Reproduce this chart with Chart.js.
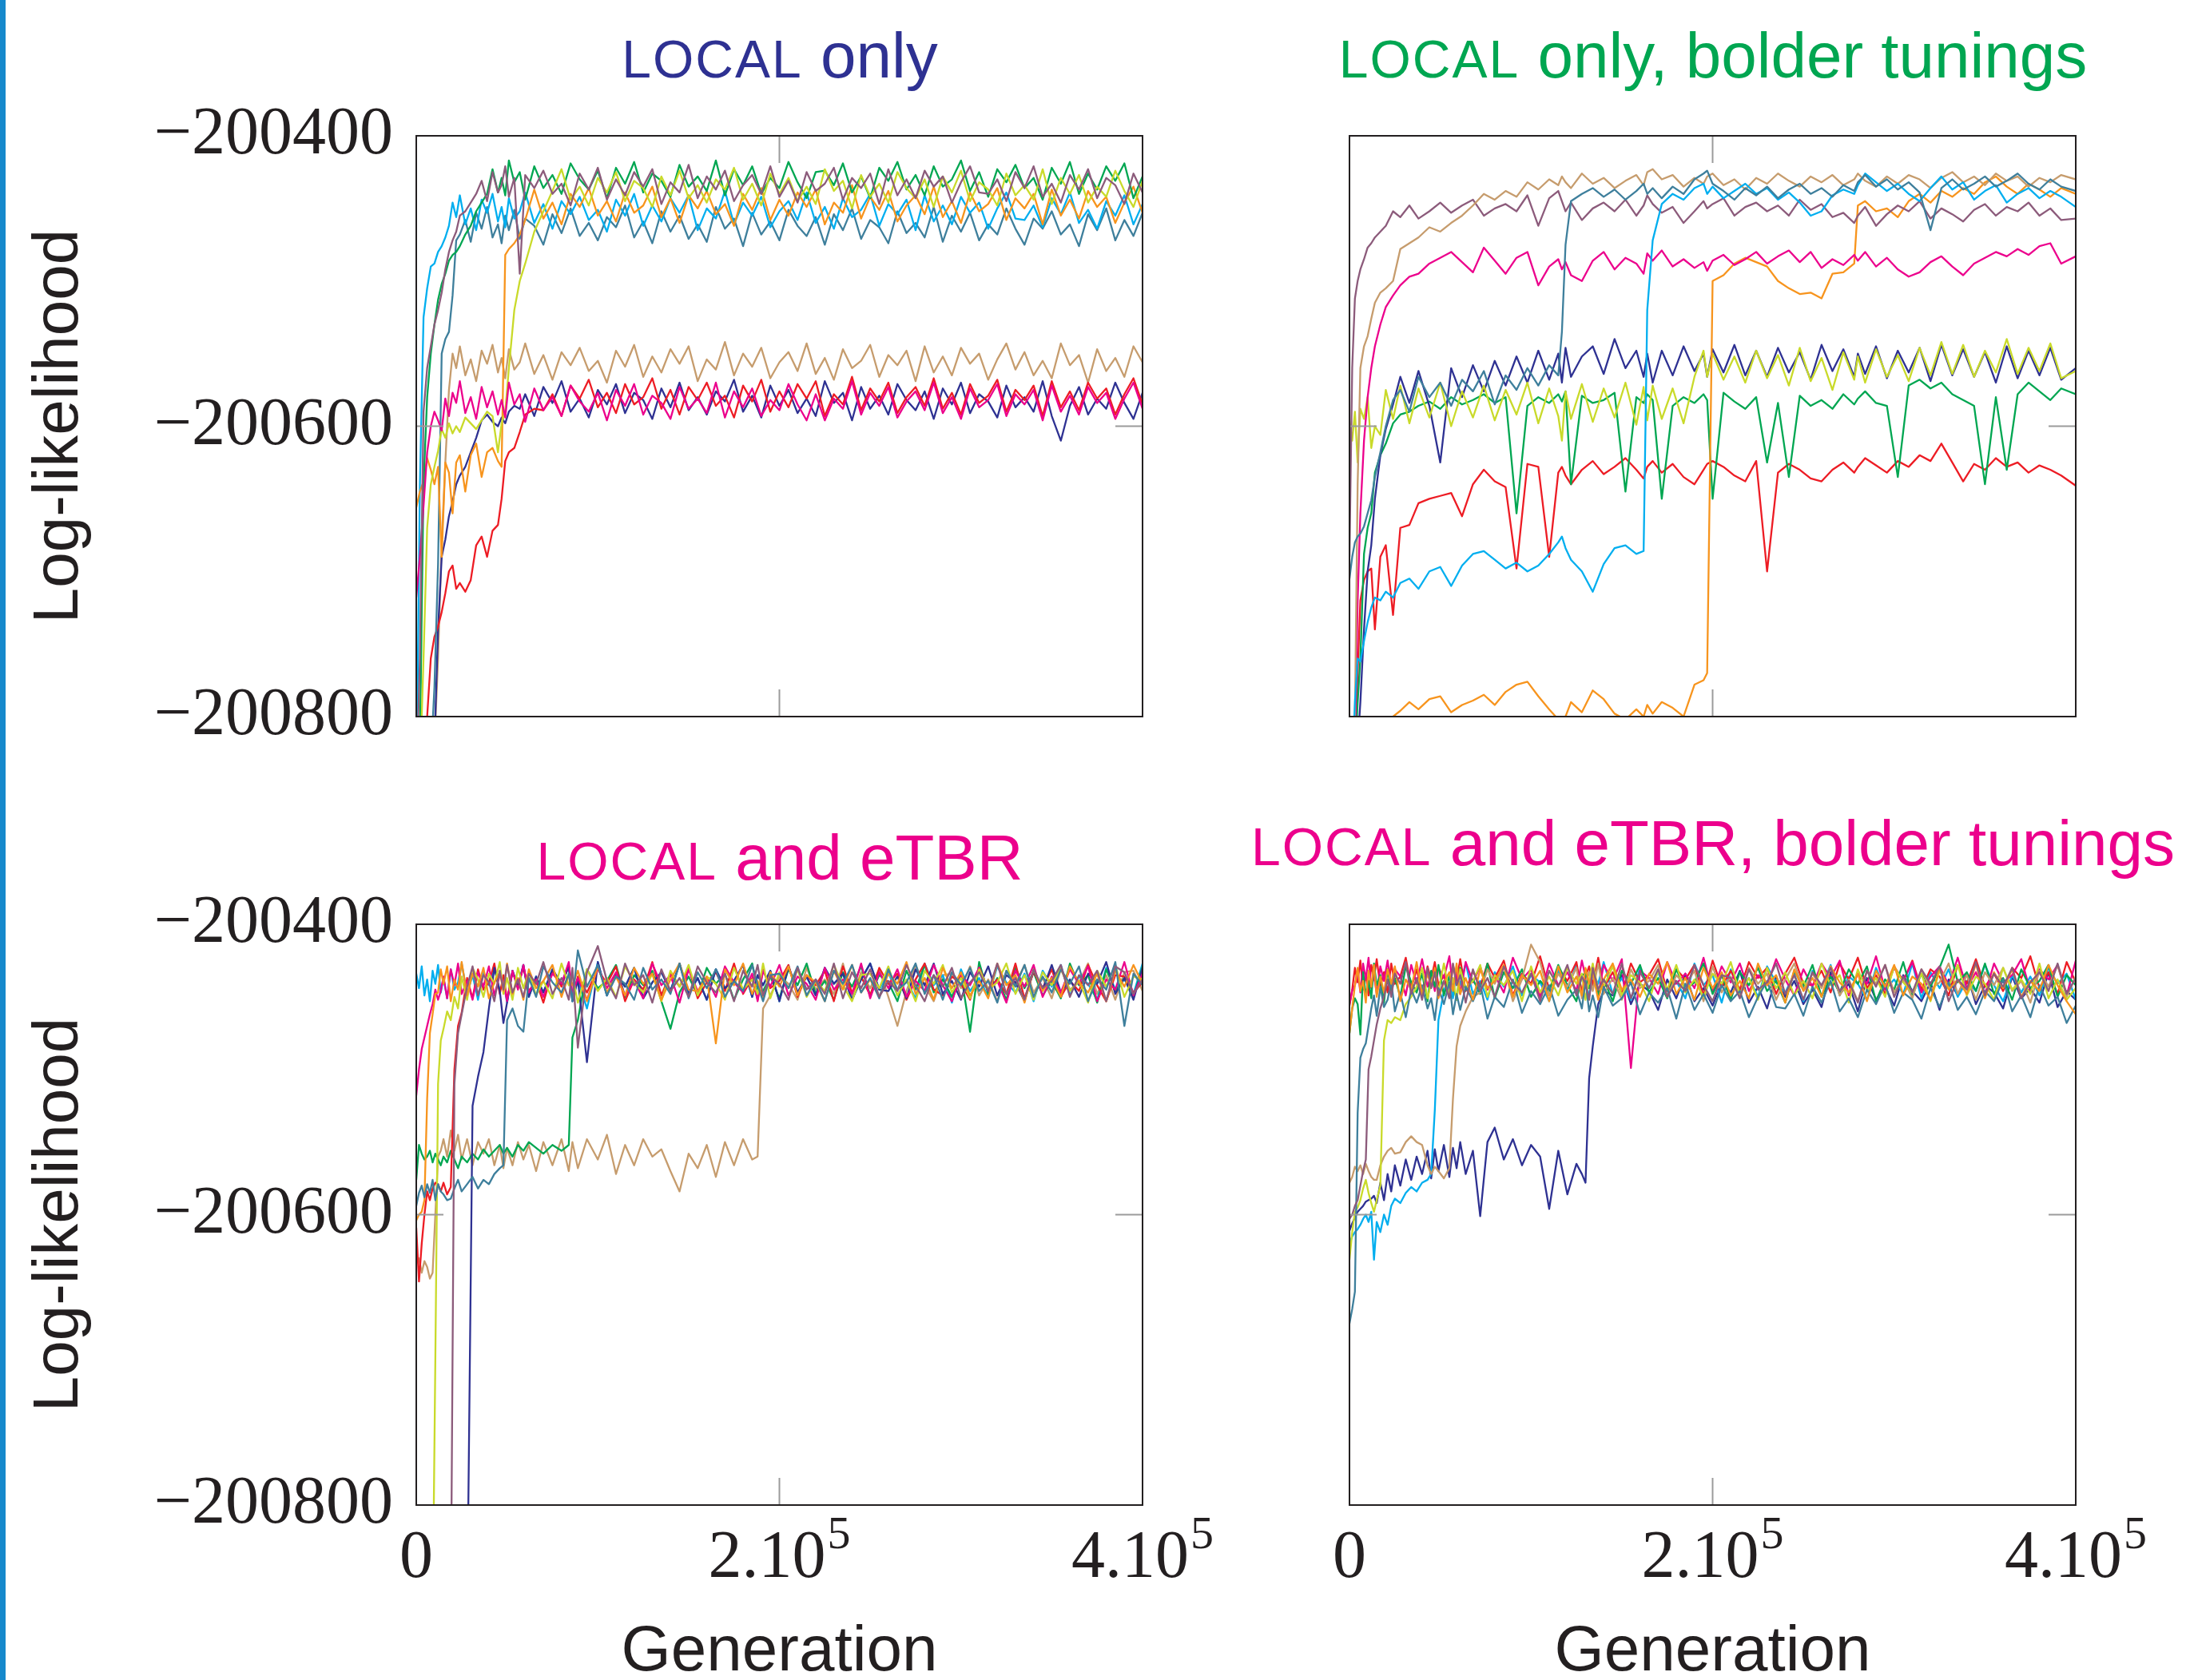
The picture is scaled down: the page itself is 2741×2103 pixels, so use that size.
<!DOCTYPE html>
<html>
<head>
<meta charset="utf-8">
<script src="https://cdn.jsdelivr.net/npm/chart.js@4.4.1/dist/chart.umd.min.js"></script>
<style>
  html, body { margin: 0; padding: 0; background: #fff; width: 2741px; height: 2103px; overflow: hidden; position: relative; }
  #edge { position: absolute; left: 0; top: 0; width: 7px; height: 2103px; background: #1689cc; }
  canvas { position: absolute; }
  .title { position: absolute; width: 1400px; text-align: center; white-space: nowrap;
           font-family: "Liberation Sans", Arial, sans-serif; font-size: 80px; line-height: 80px; }
  .title .sc { font-size: 66px; letter-spacing: 2px; }
</style>
</head>
<body>
<div id="edge"></div>

<div class="title" style="left:276px; top:30px; color:#2e3192"><span class="sc">LOCAL</span> only</div>
<div class="title" style="left:1444px; top:30px; color:#00a651"><span class="sc">LOCAL</span> only, bolder tunings</div>
<div class="title" style="left:276px; top:1034px; color:#ec008c"><span class="sc">LOCAL</span> and eTBR</div>
<div class="title" style="left:1444px; top:1016px; color:#ec008c"><span class="sc">LOCAL</span> and eTBR, bolder tunings</div>

<canvas id="c1" width="1480" height="1000" style="left:0; top:0"></canvas>
<canvas id="c2" width="1141" height="1000" style="left:1560px; top:0"></canvas>
<canvas id="c3" width="1560" height="1103" style="left:0; top:1000px"></canvas>
<canvas id="c4" width="1141" height="1103" style="left:1560px; top:1000px"></canvas>

<script>
// line colours
const NAVY = '#2e3192', GREEN = '#00a651', MAGENTA = '#ec008c', CYAN = '#00aeef', ORANGE = '#f7941d';
const RED = '#ed1c24', TAN = '#c69c6d', MAUVE = '#8c5b7b', STEEL = '#3e7f9c', LIME = '#c9da2a';
const INK = '#231f20';

// ---------- panel 1: LOCAL only ----------
const gen1 = [
  0, 2000, 4000, 6000, 8000, 10000, 12000, 14000, 16000, 18000,
  20000, 22000, 24000, 27000, 30000, 33000, 36000, 39000, 42000, 45000,
  47000, 49000, 51000, 54000, 57000, 60000, 65000, 70000, 75000, 80000,
  85000, 90000, 95000, 100000, 105000, 110000, 115000, 120000, 125000, 130000,
  135000, 140000, 145000, 150000, 155000, 160000, 165000, 170000, 175000, 180000,
  185000, 190000, 195000, 200000, 205000, 210000, 215000, 220000, 225000, 230000,
  235000, 240000, 245000, 250000, 255000, 260000, 265000, 270000, 275000, 280000,
  285000, 290000, 295000, 300000, 305000, 310000, 315000, 320000, 325000, 330000,
  335000, 340000, 345000, 350000, 355000, 360000, 365000, 370000, 375000, 380000,
  385000, 390000, 395000, 400000];
const p1Cyan = [
  -200860, -200640, -200525, -200505, -200490, -200488, -200480, -200476, -200470, -200462,
  -200446, -200456, -200441, -200461, -200450, -200465, -200444, -200453, -200440, -200459,
  -200449, -200463, -200443, -200457, -200452, -200439, -200460, -200447, -200464, -200445,
  -200454, -200442, -200458, -200451, -200466, -200444, -200455, -200440, -200462, -200448,
  -200459, -200443, -200453, -200441, -200465, -200450, -200457, -200438, -200461, -200446,
  -200455, -200442, -200463, -200452, -200445, -200458, -200439, -200460, -200449, -200464,
  -200443, -200456, -200451, -200440, -200462, -200447, -200454, -200444, -200465, -200441,
  -200459, -200448, -200461, -200442, -200453, -200446, -200464, -200450, -200439, -200457,
  -200458, -200448, -200463, -200443, -200454, -200439, -200460, -200451, -200464, -200445,
  -200455, -200441, -200461, -200447];
const p1Steel = [
  -200860, -200860, -200850, -200840, -200830, -200780, -200695, -200550, -200540, -200535,
  -200510, -200472,
  -200468, -200458, -200473, -200453, -200464, -200449, -200470, -200461, -200474, -200455,
  -200465, -200451, -200471, -200457, -200462, -200475, -200454, -200467, -200450, -200469,
  -200460, -200472, -200456, -200463, -200448, -200470, -200459, -200474, -200452, -200466,
  -200455, -200471, -200461, -200473, -200449, -200464, -200457, -200476, -200453, -200468,
  -200459, -200472, -200451, -200462, -200469, -200456, -200475, -200454, -200465, -200450,
  -200471, -200458, -200463, -200474, -200452, -200467, -200460, -200470, -200449, -200473,
  -200455, -200466, -200453, -200472, -200461, -200468, -200450, -200464, -200475, -200457,
  -200464, -200452, -200468, -200461, -200476, -200454, -200465, -200450, -200472, -200458,
  -200469, -200453];
const p1Mauve = [
  -200850, -200760, -200590, -200560, -200545, -200530, -200520, -200508, -200492, -200480,
  -200472, -200466, -200455, -200452, -200446, -200440,
  -200431, -200445, -200425, -200439, -200434, -200421, -200442, -200429, -200495, -200427,
  -200436, -200424, -200440, -200433, -200448, -200426, -200437, -200422, -200444, -200430,
  -200441, -200425, -200435, -200423, -200447, -200432, -200439, -200420, -200443, -200428,
  -200437, -200424, -200445, -200434, -200427, -200440, -200421, -200442, -200431, -200446,
  -200425, -200438, -200433, -200422, -200444, -200429, -200436, -200426, -200447, -200423,
  -200441, -200430, -200443, -200424, -200435, -200428, -200446, -200432, -200421, -200439,
  -200440, -200430, -200445, -200425, -200436, -200421, -200442, -200433, -200446, -200427,
  -200437, -200423, -200443, -200429, -200434, -200447, -200426, -200439];
const p1Green = [
  -200860, -200820, -200640, -200580, -200550, -200530, -200513, -200502, -200495, -200486,
  -200482, -200480, -200476, -200468, -200462, -200452, -200446, -200440,
  -200423, -200439, -200429, -200441, -200417, -200432, -200425, -200444, -200421, -200436,
  -200427, -200440, -200419, -200430, -200437, -200424, -200443, -200422, -200433, -200418,
  -200439, -200426, -200431, -200442, -200420, -200435, -200428, -200438, -200417, -200441,
  -200423, -200434, -200421, -200440, -200429, -200436, -200418, -200432, -200443, -200425,
  -200424, -200434, -200419, -200439, -200428, -200443, -200422, -200431, -200418, -200437,
  -200427, -200441, -200421, -200435, -200430, -200417, -200438, -200425, -200442, -200423,
  -200432, -200420, -200436, -200429, -200444, -200422, -200433, -200418, -200440, -200426,
  -200437, -200421, -200431, -200419, -200443, -200428];
const p1Orange = [
  -200656, -200645, -200638, -200622, -200630, -200640, -200628, -200690, -200625, -200632,
  -200660, -200625, -200620, -200645, -200620, -200612, -200635, -200618, -200615, -200624,
  -200628, -200482, -200478, -200474, -200468, -200458,
  -200437, -200457, -200446, -200461, -200440, -200449, -200436, -200455,
  -200445, -200459, -200439, -200453, -200448, -200435, -200456, -200443, -200460, -200441,
  -200450, -200438, -200454, -200447, -200462, -200440, -200451, -200436, -200458, -200444,
  -200455, -200439, -200449, -200437, -200461, -200446, -200453, -200434, -200457, -200442,
  -200451, -200438, -200459, -200448, -200441, -200454, -200435, -200456, -200445, -200460,
  -200439, -200452, -200447, -200436, -200458, -200443, -200450, -200440, -200461, -200437,
  -200455, -200444, -200457, -200438, -200449, -200442, -200460, -200446, -200435, -200453];
const p1Lime = [
  -200860, -200840, -200760, -200670, -200640, -200628, -200617, -200602, -200608, -200598,
  -200605, -200600, -200604, -200594, -200598, -200602, -200596, -200590, -200593, -200618,
  -200598, -200590, -200560, -200520, -200500, -200488, -200466, -200452,
  -200438, -200423, -200444, -200435, -200448, -200429,
  -200439, -200425, -200445, -200431, -200436, -200449, -200428, -200441, -200424, -200443,
  -200434, -200446, -200430, -200437, -200422, -200444, -200433, -200448, -200426, -200440,
  -200429, -200445, -200435, -200447, -200423, -200438, -200431, -200450, -200427, -200442,
  -200433, -200446, -200425, -200436, -200443, -200430, -200449, -200428, -200439, -200424,
  -200445, -200432, -200437, -200448, -200426, -200441, -200434, -200444, -200423, -200447,
  -200429, -200440, -200427, -200446, -200435, -200442, -200424, -200438, -200449, -200431];
const p1Tan = [
  -200860, -200860, -200850, -200840, -200830, -200820, -200760, -200680, -200625, -200575,
  -200550, -200560, -200545, -200565, -200554, -200569, -200548, -200557, -200544, -200563,
  -200553, -200567, -200547, -200561, -200556, -200543, -200564, -200551, -200568, -200549,
  -200558, -200546, -200562, -200555, -200570, -200548, -200559, -200544, -200566, -200552,
  -200563, -200547, -200557, -200545, -200569, -200554, -200561, -200542, -200565, -200550,
  -200559, -200546, -200567, -200556, -200549, -200562, -200543, -200564, -200553, -200568,
  -200547, -200560, -200555, -200544, -200566, -200551, -200558, -200548, -200569, -200545,
  -200563, -200552, -200565, -200546, -200557, -200550, -200568, -200554, -200543, -200561,
  -200549, -200565, -200555, -200567, -200543, -200558, -200551, -200570, -200547, -200562,
  -200553, -200566, -200545, -200556];
const p1Navy = [
  -200860, -200860, -200855, -200850, -200840, -200820, -200740, -200690, -200678, -200662,
  -200652, -200640, -200634, -200628, -200618, -200608, -200596, -200592, -200597, -200600,
  -200594, -200598, -200590, -200586,
  -200588, -200578, -200593, -200573, -200584, -200569, -200590, -200581, -200594, -200575,
  -200585, -200571, -200591, -200577, -200582, -200595, -200574, -200587, -200570, -200589,
  -200580, -200592, -200576, -200583, -200568, -200590, -200579, -200594, -200572, -200586,
  -200575, -200591, -200581, -200593, -200569, -200584, -200577, -200596, -200573, -200588,
  -200579, -200592, -200571, -200582, -200589, -200576, -200595, -200574, -200585, -200570,
  -200591, -200578, -200583, -200594, -200572, -200587, -200580, -200590, -200569, -200593,
  -200610, -200586, -200573, -200592, -200581, -200588, -200570, -200584, -200595, -200577];
const p1Red = [
  -200860, -200860, -200850, -200800, -200760, -200745, -200738, -200728, -200715, -200700,
  -200696, -200712, -200708, -200714, -200706, -200682, -200676, -200690, -200672, -200668,
  -200650, -200624, -200618, -200615, -200604, -200592, -200588,
  -200589, -200578, -200593, -200572, -200581, -200568, -200587,
  -200577, -200591, -200571, -200585, -200580, -200567, -200588, -200575, -200592, -200573,
  -200582, -200570, -200586, -200579, -200594, -200572, -200583, -200568, -200590, -200576,
  -200587, -200571, -200581, -200569, -200593, -200578, -200585, -200566, -200589, -200574,
  -200583, -200570, -200591, -200580, -200573, -200586, -200567, -200588, -200577, -200592,
  -200571, -200584, -200579, -200568, -200590, -200575, -200582, -200572, -200593, -200569,
  -200587, -200576, -200589, -200570, -200581, -200574, -200592, -200578, -200567, -200585];
const p1Magenta = [
  -200718, -200690, -200655, -200618, -200600, -200590, -200596, -200603,
  -200581, -200593, -200577, -200584, -200569, -200591, -200580, -200595, -200573, -200587,
  -200576, -200592, -200582, -200594, -200570, -200585, -200578, -200597, -200574, -200589,
  -200580, -200593, -200572, -200583, -200590, -200577, -200596, -200575, -200586, -200571,
  -200592, -200579, -200584, -200595, -200573, -200588, -200581, -200591, -200570, -200594,
  -200576, -200587, -200574, -200593, -200582, -200589, -200571, -200585, -200596, -200578,
  -200596, -200581, -200588, -200569, -200592, -200577,
  -200586, -200573, -200594, -200583, -200576, -200589, -200570, -200591, -200580, -200595,
  -200574, -200587, -200582, -200571, -200593, -200578, -200585, -200575, -200596, -200572,
  -200590, -200579, -200592, -200573, -200584, -200577, -200595, -200581, -200570, -200588];

// ---------- panel 2: LOCAL only, bolder tunings ----------
const gen2 = [
  0, 1500, 3000, 4500, 6000, 8000, 10000, 12000, 14000, 17000,
  20000, 24000, 28000, 33000, 38000, 44000, 50000, 56000, 62000, 68000,
  74000, 80000, 86000, 92000, 98000, 104000, 110000, 115000, 117000, 119000,
  122000, 128000, 134000, 140000, 146000, 152000, 158000, 162000, 164000, 167000,
  172000, 178000, 184000, 190000, 195000, 197000, 200000, 206000, 212000, 218000,
  224000, 230000, 236000, 242000, 248000, 254000, 260000, 266000, 272000, 278000,
  280000, 284000, 290000, 296000, 302000, 308000, 314000, 320000, 326000, 332000,
  338000, 344000, 350000, 356000, 362000, 368000, 374000, 380000, 386000, 392000,
  400000];
const p2Mauve = [
  -200690, -200560, -200512, -200500, -200492, -200485, -200477, -200474, -200470, -200466,
  -200462, -200452, -200456, -200448, -200457, -200452, -200446, -200453, -200448, -200444,
  -200455, -200450, -200447, -200452, -200441, -200462, -200443, -200438, -200445, -200452,
  -200446, -200458, -200450, -200446, -200452, -200444, -200455, -200448, -200441, -200447,
  -200453, -200449, -200460, -200452, -200445, -200450, -200447, -200443, -200455, -200449,
  -200446, -200452, -200448, -200455, -200444, -200451, -200447, -200456, -200453, -200460,
  -200455, -200449, -200462, -200454, -200448, -200452, -200445, -200457, -200450, -200454,
  -200459, -200451, -200447, -200455, -200449, -200452, -200446, -200455, -200450, -200458,
  -200457];
const p2Tan = [
  -200860, -200860, -200800, -200640, -200560, -200545, -200538, -200526, -200515, -200508,
  -200505, -200500, -200478, -200474, -200470, -200463, -200466, -200460, -200455, -200448,
  -200440, -200444, -200438, -200442, -200432, -200437, -200430, -200434, -200428, -200432,
  -200436, -200426, -200433, -200429, -200436, -200431, -200427, -200434, -200425, -200423,
  -200430, -200427, -200435, -200429, -200433, -200428, -200426, -200434, -200430, -200437,
  -200429, -200433, -200426, -200431, -200435, -200428, -200432, -200427, -200434, -200430,
  -200426, -200431, -200435, -200428, -200433, -200427, -200430, -200436, -200429, -200425,
  -200432, -200428, -200434, -200426, -200431, -200428, -200435, -200429, -200432, -200427,
  -200430];
const p2Magenta = [
  -200860, -200860, -200820, -200720, -200660, -200610, -200580, -200560, -200545, -200530,
  -200518, -200510, -200503, -200497, -200495, -200488, -200484, -200480, -200487, -200494,
  -200477, -200486, -200495, -200484, -200480, -200503, -200490, -200485, -200492, -200487,
  -200496, -200500, -200486, -200480, -200492, -200484, -200488, -200495, -200481, -200486,
  -200479, -200490, -200485, -200491, -200487, -200493, -200486, -200482, -200489, -200485,
  -200480, -200488, -200483, -200479, -200487, -200480, -200491, -200485, -200489, -200482,
  -200486, -200480, -200490, -200484, -200492, -200497, -200494, -200487, -200483, -200490,
  -200496, -200488, -200484, -200480, -200483, -200478, -200482, -200476, -200474, -200488,
  -200483];
const p2Steel = [
  -200705, -200690, -200680, -200676, -200674, -200669, -200660, -200651, -200635, -200618,
  -200600, -200582, -200575, -200590, -200566, -200580, -200570, -200586, -200568, -200576,
  -200562, -200585, -200565, -200575, -200560, -200572, -200558, -200565, -200535, -200475,
  -200445, -200440, -200436, -200442, -200437, -200444, -200438, -200433, -200440, -200436,
  -200443, -200435, -200440, -200430, -200426, -200424, -200433, -200438, -200444, -200436,
  -200441, -200435, -200443, -200437, -200433, -200440, -200436, -200442, -200434, -200438,
  -200432, -200427, -200435, -200430, -200437, -200432, -200439, -200465, -200436, -200430,
  -200437, -200433, -200428, -200435, -200431, -200426, -200433, -200437, -200430, -200435,
  -200438];
const p2Navy = [
  -200860, -200860, -200850, -200820, -200790, -200740, -200700, -200682, -200650, -200620,
  -200602, -200585, -200566, -200584, -200562, -200586, -200625, -200560, -200580, -200558,
  -200576, -200555, -200572, -200552, -200570, -200548, -200568, -200550, -200570, -200546,
  -200566, -200552, -200545, -200564, -200540, -200560, -200548, -200566, -200550, -200570,
  -200548, -200565, -200545, -200562, -200550, -200566, -200547, -200563, -200544, -200565,
  -200548, -200566, -200546, -200563, -200549, -200568, -200544, -200562, -200547, -200566,
  -200550, -200564, -200545, -200567, -200548, -200563, -200546, -200569, -200544, -200565,
  -200547, -200566, -200549, -200570, -200545, -200567, -200548, -200565, -200546, -200568,
  -200560];
const p2Lime = [
  -200596, -200610, -200590, -200625, -200588, -200595, -200580, -200615, -200600, -200606,
  -200575, -200595, -200572, -200598, -200574, -200594, -200570, -200600, -200576, -200594,
  -200572, -200596, -200575, -200592, -200570, -200598, -200574, -200593, -200610, -200576,
  -200595, -200571, -200597, -200574, -200594, -200570, -200599, -200573, -200596, -200572,
  -200595, -200574, -200598, -200566, -200548, -200566, -200550, -200568, -200552, -200570,
  -200548, -200567, -200551, -200572, -200546, -200569, -200553, -200575, -200549, -200568,
  -200552, -200570, -200547, -200566, -200551, -200569, -200546, -200565, -200542, -200564,
  -200544, -200566, -200548, -200563, -200540, -200564, -200546, -200562, -200543, -200567,
  -200562];
const p2Green = [
  -200860, -200860, -200830, -200790, -200760, -200688, -200670, -200660, -200632, -200620,
  -200612, -200598, -200592, -200590, -200586, -200583, -200588, -200580, -200585, -200582,
  -200578, -200584, -200580, -200660, -200586, -200580, -200584, -200578, -200583, -200576,
  -200640, -200579, -200584, -200582, -200577, -200645, -200580, -200584, -200578, -200582,
  -200650, -200586, -200580, -200584, -200578, -200582, -200650, -200577, -200583, -200588,
  -200580, -200625, -200584, -200635, -200579, -200586, -200582, -200588, -200578, -200585,
  -200581, -200576, -200584, -200586, -200635, -200572, -200568, -200574, -200570, -200578,
  -200582, -200586, -200640, -200580, -200630, -200578, -200570, -200576, -200582, -200574,
  -200578];
const p2Red = [
  -200860, -200860, -200820, -200770, -200720, -200706, -200700, -200698, -200740, -200690,
  -200682, -200730, -200670, -200668, -200653, -200650, -200648, -200646, -200662, -200640,
  -200630, -200638, -200642, -200698, -200626, -200628, -200690, -200632, -200628, -200634,
  -200640, -200630, -200624, -200633, -200628, -200622, -200630, -200636, -200628, -200624,
  -200632, -200626, -200635, -200640, -200630, -200626, -200624, -200628, -200634, -200638,
  -200624, -200700, -200632, -200626, -200630, -200636, -200638, -200630, -200625, -200632,
  -200628, -200622, -200627, -200632, -200624, -200628, -200620, -200624, -200612, -200625,
  -200638, -200626, -200630, -200622, -200628, -200625, -200632, -200627, -200630, -200634,
  -200641];
const p2Cyan = [
  -200860, -200840, -200790, -200760, -200762, -200748, -200735, -200725, -200718, -200720,
  -200714, -200718, -200708, -200705, -200712, -200700, -200697, -200710, -200696, -200688,
  -200686, -200692, -200698, -200694, -200700, -200696, -200688, -200680, -200676, -200684,
  -200692, -200700, -200714, -200695, -200684, -200682, -200688, -200686, -200520, -200472,
  -200447, -200440, -200444, -200436, -200433, -200440, -200435, -200443, -200438, -200433,
  -200440, -200436, -200444, -200439, -200446, -200455, -200452, -200441, -200437, -200440,
  -200434, -200426, -200432, -200438, -200433, -200440, -200445, -200436, -200428, -200437,
  -200432, -200444, -200438, -200434, -200446, -200440, -200436, -200443, -200438, -200442,
  -200449];
const p2Orange = [
  -200900, -200900, -200900, -200880, -200860, -200850, -200840, -200830, -200820, -200812,
  -200805, -200800, -200796, -200790, -200795, -200788, -200786, -200797, -200792, -200789,
  -200785, -200792, -200783, -200778, -200776, -200786, -200795, -200802, -200805, -200800,
  -200790, -200797, -200782, -200788, -200798, -200802, -200795, -200800, -200792, -200798,
  -200790, -200794, -200800, -200778, -200775, -200770, -200500, -200496, -200488, -200484,
  -200487, -200490, -200500, -200505, -200509, -200508, -200512, -200495, -200494, -200488,
  -200448, -200445, -200452, -200450, -200456, -200445, -200440, -200446, -200438, -200442,
  -200436, -200440, -200432, -200428, -200435, -200440, -200433, -200437, -200442, -200436,
  -200440];

// ---------- panel 3: LOCAL and eTBR ----------
const gen3 = [
  0, 1500, 3000, 4500, 6000, 7500, 9000, 10500, 12000, 13500,
  15000, 17000, 19000, 21000, 23000, 25000, 28000, 31000, 34000, 37000,
  40000, 43000, 46000, 48000, 50000, 53000, 56000, 59000, 62000, 66000,
  70000, 75000, 80000, 84000, 86000, 89000, 94000, 100000, 105000, 110000,
  115000, 120000, 125000, 130000, 135000, 140000, 145000, 150000, 155000, 160000,
  165000, 170000, 175000, 180000, 185000, 188000, 191000, 195000, 200000, 205000,
  210000, 215000, 220000, 225000, 230000, 235000, 240000, 245000, 250000, 255000,
  260000, 265000, 270000, 275000, 280000, 285000, 290000, 295000, 300000, 305000,
  310000, 315000, 320000, 325000, 330000, 335000, 340000, 345000, 350000, 355000,
  360000, 365000, 370000, 375000, 380000, 385000, 390000, 395000, 400000];
const p3Cyan = [
  -200434, -200444, -200429, -200449, -200438, -200453, -200432, -200441, -200428, -200447,
  -200437, -200451, -200431, -200445, -200440, -200427, -200448, -200435, -200452, -200433,
  -200442, -200430, -200446, -200439, -200454, -200432, -200443, -200428, -200450, -200436,
  -200447, -200431, -200441, -200429, -200453, -200438, -200458, -200426, -200449, -200434,
  -200443, -200430, -200451, -200440, -200433, -200446, -200427, -200448, -200437, -200452,
  -200431, -200444, -200439, -200428, -200450, -200435, -200442, -200432, -200453, -200429,
  -200447, -200436, -200449, -200430, -200441, -200434, -200452, -200438, -200427, -200445,
  -200433, -200449, -200439, -200451, -200427, -200442, -200435, -200454, -200431, -200446,
  -200437, -200450, -200429, -200440, -200447, -200434, -200453, -200432, -200443, -200428,
  -200449, -200436, -200441, -200452, -200430, -200445, -200438, -200448, -200427];
const p3Magenta = [
  -200518, -200500, -200486, -200478, -200470, -200462, -200455, -200445, -200452,
  -200446, -200436, -200451, -200431, -200442, -200427, -200448, -200439, -200452, -200433,
  -200443, -200429, -200449, -200435, -200440, -200453, -200432, -200445, -200428, -200447,
  -200438, -200450, -200434, -200441, -200426, -200448, -200437, -200452, -200430, -200444,
  -200433, -200449, -200439, -200451, -200427, -200442, -200435, -200454, -200431, -200446,
  -200437, -200450, -200429, -200440, -200447, -200434, -200453, -200432, -200443, -200428,
  -200449, -200436, -200441, -200452, -200430, -200445, -200438, -200448, -200427, -200451,
  -200433, -200444, -200431, -200450, -200439, -200446, -200428, -200442, -200453, -200435,
  -200442, -200430, -200446, -200439, -200454, -200432, -200443, -200428, -200450, -200436,
  -200447, -200431, -200441, -200429, -200453, -200438, -200445, -200426, -200449, -200434];
const p3Orange = [
  -200604, -200600, -200598, -200590, -200520, -200475, -200462, -200448,
  -200447, -200431, -200441, -200429, -200453, -200438, -200445, -200426, -200449, -200434,
  -200443, -200430, -200451, -200440, -200433, -200446, -200427, -200448, -200437, -200452,
  -200431, -200444, -200439, -200428, -200450, -200435, -200442, -200432, -200453, -200429,
  -200447, -200436, -200449, -200430, -200441, -200434, -200452, -200438, -200427, -200445,
  -200446, -200436, -200482, -200431, -200442, -200427, -200448, -200439, -200452, -200433,
  -200443, -200429, -200449, -200435, -200440, -200453, -200432, -200445, -200428, -200447,
  -200438, -200450, -200434, -200441, -200426, -200448, -200437, -200452, -200430, -200444,
  -200433, -200449, -200439, -200451, -200427, -200442, -200435, -200454, -200431, -200446,
  -200437, -200450, -200429, -200440, -200447, -200434, -200453, -200432, -200443, -200428,
  -200441];
const p3Lime = [
  -200880, -200880, -200880, -200880, -200880, -200880, -200880, -200700, -200510, -200480,
  -200472, -200460, -200466, -200450, -200458, -200436, -200452, -200430,
  -200438, -200450, -200434, -200441, -200426, -200448, -200437, -200452, -200430, -200444,
  -200433, -200449, -200439, -200451, -200427, -200442, -200435, -200454, -200431, -200446,
  -200437, -200450, -200429, -200440, -200447, -200434, -200453, -200432, -200443, -200428,
  -200449, -200436, -200441, -200452, -200430, -200445, -200438, -200448, -200427, -200451,
  -200433, -200444, -200431, -200450, -200439, -200446, -200428, -200442, -200453, -200435,
  -200434, -200444, -200429, -200449, -200438, -200453, -200432, -200441, -200428, -200447,
  -200437, -200451, -200431, -200445, -200440, -200427, -200448, -200435, -200452, -200433,
  -200442, -200430, -200446, -200439, -200454, -200432, -200443, -200428, -200450, -200436,
  -200438];
const p3Red = [
  -200609, -200646, -200620, -200600, -200584, -200590, -200582, -200578, -200579, -200584,
  -200578, -200586, -200581, -200500, -200470, -200461,
  -200437, -200451, -200431, -200445, -200440, -200427, -200448, -200435, -200452, -200433,
  -200442, -200430, -200446, -200439, -200454, -200432, -200443, -200428, -200450, -200436,
  -200447, -200431, -200441, -200429, -200453, -200438, -200445, -200426, -200449, -200434,
  -200443, -200430, -200451, -200440, -200433, -200446, -200427, -200448, -200437, -200452,
  -200431, -200444, -200439, -200428, -200450, -200435, -200442, -200432, -200453, -200429,
  -200447, -200436, -200449, -200430, -200441, -200434, -200452, -200438, -200427, -200445,
  -200449, -200436, -200441, -200452, -200430, -200445, -200438, -200448, -200427, -200451,
  -200433, -200444, -200431, -200450, -200439, -200446, -200428, -200442, -200453, -200435,
  -200436, -200447, -200440];
const p3Mauve = [
  -200880, -200880, -200880, -200880, -200880, -200880, -200880, -200880, -200880, -200880,
  -200880, -200880, -200880, -200510, -200475, -200462,
  -200443, -200429, -200449, -200435, -200440, -200453, -200432, -200445, -200428, -200447,
  -200438, -200450, -200434, -200441, -200426, -200448, -200437, -200452, -200430, -200485,
  -200433, -200415, -200439, -200451, -200427, -200442, -200435, -200454, -200431, -200446,
  -200437, -200450, -200429, -200440, -200447, -200434, -200453, -200432, -200443, -200428,
  -200449, -200436, -200441, -200452, -200430, -200445, -200438, -200448, -200427, -200451,
  -200433, -200444, -200431, -200450, -200439, -200446, -200428, -200442, -200453, -200435,
  -200443, -200430, -200451, -200440, -200433, -200446, -200427, -200448, -200437, -200452,
  -200431, -200444, -200439, -200428, -200450, -200435, -200442, -200432, -200453, -200429,
  -200433, -200448, -200438];
const p3Navy = [
  -200880, -200880, -200880, -200880, -200880, -200880, -200880, -200880, -200880, -200880,
  -200880, -200880, -200880, -200880, -200880, -200880, -200880, -200525, -200505, -200488,
  -200458, -200430, -200446, -200468, -200454, -200432, -200443, -200428, -200450, -200436,
  -200447, -200431, -200441, -200429, -200453, -200438, -200495, -200426, -200449, -200434,
  -200443, -200430, -200451, -200440, -200433, -200446, -200427, -200448, -200437, -200452,
  -200431, -200444, -200439, -200428, -200450, -200435, -200442, -200432, -200453, -200429,
  -200447, -200436, -200449, -200430, -200441, -200434, -200452, -200438, -200427, -200445,
  -200446, -200436, -200451, -200431, -200442, -200427, -200448, -200439, -200452, -200433,
  -200443, -200429, -200449, -200435, -200440, -200453, -200432, -200445, -200428, -200447,
  -200438, -200450, -200434, -200441, -200426, -200448, -200437, -200452, -200430];
const p3Steel = [
  -200594, -200585, -200580, -200588, -200579, -200585, -200576, -200590, -200579, -200584,
  -200586, -200590, -200589, -200582, -200576, -200584, -200579, -200574, -200582, -200576,
  -200579, -200572, -200568, -200566, -200466, -200458, -200470, -200474,
  -200437, -200450, -200429, -200440, -200447, -200434, -200453, -200418, -200443, -200428,
  -200449, -200436, -200441, -200452, -200430, -200445, -200438, -200448, -200427, -200451,
  -200433, -200444, -200431, -200450, -200439, -200446, -200428, -200442, -200453, -200435,
  -200434, -200444, -200429, -200449, -200438, -200453, -200432, -200441, -200428, -200447,
  -200437, -200451, -200431, -200445, -200440, -200427, -200448, -200435, -200452, -200433,
  -200442, -200430, -200446, -200439, -200454, -200432, -200443, -200428, -200450, -200436,
  -200447, -200431, -200441, -200429, -200453, -200438, -200445, -200426, -200470, -200434,
  -200442];
const p3Green = [
  -200576, -200552, -200558, -200562, -200560, -200556, -200564, -200558, -200562, -200566,
  -200560, -200564, -200556, -200562, -200568, -200560, -200564, -200558, -200562, -200555,
  -200560, -200556, -200552, -200558, -200554, -200560, -200552, -200556, -200550, -200554,
  -200558, -200552, -200556, -200552, -200478, -200466,
  -200431, -200444, -200439, -200428, -200450, -200435, -200442, -200432, -200453, -200472,
  -200447, -200436, -200449, -200430, -200441, -200434, -200452, -200438, -200427, -200445,
  -200446, -200436, -200451, -200431, -200442, -200427, -200448, -200439, -200452, -200433,
  -200443, -200429, -200449, -200435, -200440, -200453, -200432, -200445, -200428, -200447,
  -200438, -200450, -200434, -200474, -200426, -200448, -200437, -200452, -200430, -200444,
  -200433, -200449, -200439, -200451, -200427, -200442, -200435, -200454, -200431, -200446,
  -200437, -200450, -200429];
const p3Tan = [
  -200634, -200630, -200640, -200632, -200636, -200644, -200640, -200600, -200560, -200556,
  -200548, -200560, -200542, -200556, -200545, -200562, -200548, -200566, -200550, -200558,
  -200548, -200566, -200552, -200568, -200554, -200566, -200550, -200562, -200552, -200570,
  -200550, -200566, -200548, -200570, -200550, -200568, -200548, -200562, -200545, -200572,
  -200552, -200566, -200548, -200560, -200555, -200570, -200584, -200558, -200568, -200552,
  -200574, -200550, -200566, -200548, -200562, -200560, -200458,
  -200449, -200436, -200441, -200452, -200430, -200445, -200438, -200448, -200427, -200451,
  -200433, -200444, -200431, -200450, -200470, -200446, -200428, -200442, -200453, -200435,
  -200434, -200444, -200429, -200449, -200438, -200453, -200432, -200441, -200428, -200447,
  -200437, -200451, -200431, -200445, -200440, -200427, -200448, -200435, -200452, -200433,
  -200432, -200446];

// ---------- panel 4: LOCAL and eTBR, bolder tunings ----------
const gen4 = [
  0, 1500, 3000, 4500, 6000, 7500, 9000, 10500, 12000, 13500,
  15000, 17000, 19000, 21000, 23000, 25000, 28000, 31000, 34000, 37000,
  40000, 43000, 45000, 47000, 49000, 52000, 55000, 57000, 59000, 61000,
  64000, 68000, 72000, 76000, 80000, 85000, 90000, 95000, 100000, 105000,
  110000, 115000, 120000, 125000, 128000, 130000, 132000, 134000, 137000, 140000,
  145000, 150000, 155000, 160000, 165000, 170000, 175000, 180000, 185000, 190000,
  195000, 200000, 205000, 210000, 215000, 220000, 225000, 230000, 235000, 240000,
  245000, 250000, 255000, 260000, 265000, 270000, 275000, 280000, 285000, 290000,
  295000, 300000, 305000, 310000, 315000, 320000, 325000, 330000, 335000, 340000,
  345000, 350000, 355000, 360000, 365000, 370000, 375000, 380000, 385000, 390000,
  395000, 400000];
const p4Red = [
  -200456, -200445,
  -200430, -200440, -200425, -200445, -200434, -200449, -200428, -200437, -200424, -200443,
  -200433, -200447, -200427, -200441, -200436, -200423, -200444, -200431, -200448, -200429,
  -200438, -200426, -200442, -200435, -200450, -200428, -200439, -200424, -200446, -200432,
  -200443, -200427, -200437, -200425, -200449, -200434, -200441, -200422, -200445, -200430,
  -200439, -200426, -200447, -200436, -200429, -200442, -200423, -200444, -200433, -200448,
  -200427, -200440, -200435, -200424, -200446, -200431, -200438, -200428, -200449, -200425,
  -200443, -200432, -200445, -200426, -200437, -200430, -200448, -200434, -200423, -200441,
  -200442, -200432, -200447, -200427, -200438, -200423, -200444, -200435, -200448, -200429,
  -200439, -200425, -200445, -200431, -200436, -200449, -200428, -200441, -200424, -200443,
  -200434, -200446, -200430, -200437, -200422, -200444, -200433, -200448, -200426, -200440];
const p4Magenta = [
  -200455, -200446,
  -200442, -200432, -200447, -200427, -200438, -200423, -200444, -200435, -200448, -200429,
  -200439, -200425, -200445, -200431, -200436, -200449, -200428, -200441, -200424, -200443,
  -200434, -200446, -200430, -200437, -200422, -200444, -200433, -200448, -200426, -200440,
  -200429, -200445, -200435, -200447, -200423, -200438, -200431, -200450, -200427, -200442,
  -200433, -200446, -200425, -200436, -200443, -200430, -200449, -200428, -200439, -200424,
  -200499, -200432, -200437, -200448, -200426, -200441, -200434, -200444, -200423, -200447,
  -200429, -200440, -200427, -200446, -200435, -200442, -200424, -200438, -200449, -200431,
  -200443, -200427, -200437, -200425, -200449, -200434, -200441, -200422, -200445, -200430,
  -200439, -200426, -200447, -200436, -200429, -200442, -200423, -200444, -200433, -200448,
  -200427, -200440, -200435, -200424, -200446, -200431, -200438, -200428, -200449, -200425];
const p4Orange = [
  -200475, -200458,
  -200442, -200430, -200446, -200439, -200454, -200432, -200443, -200428, -200450, -200436,
  -200447, -200431, -200441, -200429, -200453, -200438, -200445, -200426, -200449, -200434,
  -200443, -200430, -200451, -200440, -200433, -200446, -200427, -200448, -200437, -200452,
  -200431, -200444, -200439, -200428, -200450, -200435, -200442, -200432, -200453, -200429,
  -200447, -200436, -200449, -200430, -200441, -200434, -200452, -200438, -200427, -200445,
  -200438, -200450, -200434, -200441, -200426, -200448, -200437, -200452, -200430, -200444,
  -200433, -200449, -200439, -200451, -200427, -200442, -200435, -200454, -200431, -200446,
  -200437, -200450, -200429, -200440, -200447, -200434, -200453, -200432, -200443, -200428,
  -200449, -200436, -200441, -200452, -200430, -200445, -200438, -200448, -200427, -200451,
  -200433, -200444, -200431, -200450, -200439, -200446, -200428, -200442, -200453, -200462];
const p4Green = [
  -200475, -200458, -200451, -200455, -200476,
  -200433, -200449, -200439, -200451, -200427, -200442, -200435, -200454, -200431, -200446,
  -200437, -200450, -200429, -200440, -200447, -200434, -200453, -200432, -200443, -200428,
  -200449, -200436, -200441, -200452, -200430, -200445, -200438, -200448, -200427, -200451,
  -200433, -200444, -200431, -200450, -200439, -200446, -200428, -200442, -200453, -200435,
  -200434, -200444, -200429, -200449, -200438, -200453, -200432, -200441, -200428, -200447,
  -200437, -200451, -200431, -200445, -200440, -200427, -200448, -200435, -200452, -200433,
  -200442, -200430, -200446, -200439, -200454, -200432, -200443, -200428, -200450, -200436,
  -200447, -200431, -200441, -200429, -200453, -200438, -200445, -200426, -200449, -200434,
  -200443, -200430, -200414, -200440, -200433, -200446, -200427, -200448, -200437, -200452,
  -200431, -200444, -200439, -200428, -200450, -200435, -200442];
const p4Steel = [
  -200675, -200665, -200653, -200530, -200492, -200486, -200482, -200470, -200458,
  -200449, -200463, -200443, -200457, -200452, -200439, -200460, -200447, -200464, -200445,
  -200454, -200442, -200458, -200451, -200466, -200444, -200455, -200440, -200462, -200448,
  -200459, -200443, -200453, -200441, -200465, -200450, -200457, -200438, -200461, -200446,
  -200455, -200442, -200463, -200452, -200445, -200458, -200439, -200460, -200449, -200464,
  -200443, -200456, -200451, -200440, -200462, -200447, -200454, -200444, -200465, -200441,
  -200459, -200448, -200461, -200442, -200453, -200446, -200464, -200450, -200439, -200457,
  -200458, -200448, -200463, -200443, -200454, -200439, -200460, -200451, -200464, -200445,
  -200455, -200441, -200461, -200447, -200452, -200465, -200444, -200457, -200440, -200459,
  -200450, -200462, -200446, -200453, -200438, -200460, -200449, -200464, -200442, -200456,
  -200450, -200468, -200456];
const p4Mauve = [
  -200603, -200600, -200594, -200590, -200580, -200570, -200562, -200500, -200491, -200480,
  -200469, -200458, -200450,
  -200438, -200450, -200434, -200441, -200426, -200448, -200437, -200452, -200430, -200444,
  -200433, -200449, -200439, -200451, -200427, -200442, -200435, -200454, -200431, -200446,
  -200437, -200450, -200429, -200440, -200447, -200434, -200453, -200432, -200443, -200428,
  -200449, -200436, -200441, -200452, -200430, -200445, -200438, -200448, -200427, -200451,
  -200433, -200444, -200431, -200450, -200439, -200446, -200428, -200442, -200453, -200435,
  -200437, -200451, -200431, -200445, -200440, -200427, -200448, -200435, -200452, -200433,
  -200442, -200430, -200446, -200439, -200454, -200432, -200443, -200428, -200450, -200436,
  -200447, -200431, -200441, -200429, -200453, -200438, -200445, -200426, -200449, -200434,
  -200443, -200430, -200451, -200440, -200433, -200446, -200427, -200448, -200437];
const p4Lime = [
  -200631, -200612, -200598, -200595, -200590, -200582, -200576, -200585, -200592, -200598,
  -200590, -200580, -200480, -200466, -200468, -200464, -200466, -200455, -200450,
  -200443, -200430, -200451, -200440, -200433, -200446, -200427, -200448, -200437, -200452,
  -200431, -200444, -200439, -200428, -200450, -200435, -200442, -200432, -200453, -200429,
  -200447, -200436, -200449, -200430, -200441, -200434, -200452, -200438, -200427, -200445,
  -200443, -200429, -200449, -200435, -200440, -200453, -200432, -200445, -200428, -200447,
  -200438, -200450, -200434, -200441, -200426, -200448, -200437, -200452, -200430, -200444,
  -200433, -200449, -200439, -200451, -200427, -200442, -200435, -200454, -200431, -200446,
  -200437, -200450, -200429, -200440, -200447, -200434, -200453, -200432, -200443, -200428,
  -200449, -200436, -200441, -200452, -200430, -200445, -200438, -200448, -200427, -200451,
  -200438, -200452, -200444];
const p4Cyan = [
  -200620, -200615, -200612, -200610, -200607, -200603, -200600, -200605, -200598, -200631,
  -200605, -200612, -200600, -200607, -200594, -200589, -200592, -200585, -200581, -200584,
  -200578, -200576, -200572, -200528, -200466,
  -200446, -200436, -200451, -200431, -200442, -200427, -200448, -200439, -200452, -200433,
  -200443, -200429, -200449, -200435, -200440, -200453, -200432, -200445, -200428, -200447,
  -200438, -200450, -200434, -200441, -200426, -200448, -200437, -200452, -200430, -200444,
  -200433, -200449, -200439, -200451, -200427, -200442, -200435, -200454, -200431, -200446,
  -200437, -200450, -200429, -200440, -200447, -200434, -200453, -200432, -200443, -200428,
  -200449, -200436, -200441, -200452, -200430, -200445, -200438, -200448, -200427, -200451,
  -200433, -200444, -200431, -200450, -200439, -200446, -200428, -200442, -200453, -200435,
  -200447, -200436, -200449, -200430, -200441, -200434, -200452];
const p4Tan = [
  -200578, -200574, -200567, -200570, -200566, -200572, -200565, -200570, -200574, -200576,
  -200576, -200566, -200560, -200556, -200554, -200558, -200557, -200550, -200546, -200550,
  -200552, -200566, -200572, -200567, -200570, -200575, -200568, -200520, -200484, -200470,
  -200460, -200450,
  -200447, -200431, -200441, -200429, -200453, -200438, -200414, -200426, -200449, -200434,
  -200443, -200430, -200451, -200440, -200433, -200446, -200427, -200448, -200437, -200452,
  -200431, -200444, -200439, -200428, -200450, -200435, -200442, -200432, -200453, -200429,
  -200447, -200436, -200449, -200430, -200441, -200434, -200452, -200438, -200427, -200445,
  -200434, -200444, -200429, -200449, -200438, -200453, -200432, -200441, -200428, -200447,
  -200437, -200451, -200431, -200445, -200440, -200427, -200448, -200435, -200452, -200433,
  -200442, -200430, -200446, -200439, -200454, -200432, -200443, -200428, -200450, -200436];
const p4Navy = [
  -200611, -200606, -200602, -200598, -200596, -200594, -200591, -200590, -200589, -200587,
  -200592, -200578, -200590, -200572, -200584, -200566, -200580, -200562, -200576, -200560,
  -200572, -200556, -200575, -200555, -200570, -200552, -200574, -200554, -200568, -200550,
  -200572, -200556, -200601, -200550, -200540, -200562, -200548, -200566, -200552, -200560,
  -200596, -200556, -200586, -200565, -200572, -200578, -200506, -200484, -200455, -200446,
  -200449, -200435, -200455, -200441, -200446, -200459, -200438, -200451, -200434, -200453,
  -200444, -200456, -200440, -200447, -200432, -200454, -200443, -200458, -200436, -200450,
  -200439, -200455, -200445, -200457, -200433, -200448, -200441, -200460, -200437, -200452,
  -200443, -200456, -200435, -200446, -200453, -200440, -200459, -200438, -200449, -200434,
  -200455, -200442, -200447, -200458, -200436, -200451, -200444, -200454, -200433, -200457,
  -200446, -200452];

// axis ticks
const X_MIN = 0, X_MAX = 400000, X_STEP = 200000;
const Y_MIN = -200800, Y_MAX = -200400, Y_STEP = 200;
const TICK_LEN = 34;
const SERIF = "'Liberation Serif', 'Times New Roman', serif";

// short grey tick marks inside the box, the black frame, and x labels with a raised exponent
const framePlugin = {
  id: 'frame',
  afterDatasetsDraw(chart) {
    const { ctx, chartArea: a, scales: { x, y } } = chart;
    ctx.save();
    ctx.strokeStyle = '#9b9b9b';
    ctx.lineWidth = 2;
    ctx.beginPath();
    x.ticks.forEach(t => {
      const px = x.getPixelForValue(t.value);
      if (px <= a.left + 2 || px >= a.right - 2) return;
      ctx.moveTo(px, a.top); ctx.lineTo(px, a.top + TICK_LEN);
      ctx.moveTo(px, a.bottom); ctx.lineTo(px, a.bottom - TICK_LEN);
    });
    y.ticks.forEach(t => {
      const py = y.getPixelForValue(t.value);
      if (py <= a.top + 2 || py >= a.bottom - 2) return;
      ctx.moveTo(a.left, py); ctx.lineTo(a.left + TICK_LEN, py);
      ctx.moveTo(a.right, py); ctx.lineTo(a.right - TICK_LEN, py);
    });
    ctx.stroke();
    ctx.strokeStyle = INK;
    ctx.lineWidth = 2;
    ctx.strokeRect(a.left, a.top, a.right - a.left, a.bottom - a.top);
    ctx.restore();
  },
  afterDraw(chart, args, opts) {
    if (!opts.xLabels) return;
    const { ctx, chartArea: a, scales: { x } } = chart;
    const baseY = a.bottom + 90;
    ctx.save();
    ctx.fillStyle = INK;
    ctx.textBaseline = 'alphabetic';
    ctx.textAlign = 'left';
    x.ticks.forEach(t => {
      const px = x.getPixelForValue(t.value);
      const main = t.value === 0 ? '0' : (t.value / 100000) + '.10';
      const sup = t.value === 0 ? '' : '5';
      ctx.font = `84px ${SERIF}`;
      const wMain = ctx.measureText(main).width;
      ctx.font = `58px ${SERIF}`;
      const wSup = sup ? ctx.measureText(sup).width + 2 : 0;
      const left = px - (wMain + wSup) / 2;
      ctx.font = `84px ${SERIF}`;
      ctx.fillText(main, left, baseY);
      if (sup) {
        ctx.font = `58px ${SERIF}`;
        ctx.fillText(sup, left + wMain + 2, baseY - 36);
      }
    });
    ctx.restore();
  }
};

function makePanel(id, series, opt) {
  const datasets = series.map(([gen, ll, color]) => ({
    data: gen.map((g, i) => ({ x: g, y: ll[i] })),
    borderColor: color,
    borderWidth: 2.3,
    borderJoinStyle: 'round',
    pointRadius: 0,
    tension: 0,
    fill: false
  }));
  new Chart(document.getElementById(id), {
    type: 'line',
    data: { datasets },
    options: {
      responsive: false,
      animation: false,
      devicePixelRatio: 1,
      events: [],
      layout: { padding: opt.padding },
      plugins: { legend: { display: false }, tooltip: { enabled: false }, frame: { xLabels: opt.xLabels } },
      scales: {
        x: {
          type: 'linear', min: X_MIN, max: X_MAX,
          grid: { display: false }, border: { display: false },
          ticks: { display: false, stepSize: X_STEP, autoSkip: false, maxRotation: 0 },
          title: {
            display: opt.xLabels, text: 'Generation', color: INK,
            font: { family: "'Liberation Sans', Arial, sans-serif", size: 80, lineHeight: 0.8 },
            padding: { top: 0, bottom: 2 }
          },
          afterFit: s => { s.height = opt.xh; s.paddingLeft = 0; s.paddingRight = 0; }
        },
        y: {
          type: 'linear', min: Y_MIN, max: Y_MAX,
          grid: { display: false }, border: { display: false },
          ticks: {
            display: opt.yLabels, stepSize: Y_STEP, padding: 21,
            color: INK, font: { family: SERIF, size: 84 },
            callback: v => '\u2212' + Math.abs(v)
          },
          title: {
            display: opt.yLabels, text: 'Log-likelihood', color: INK,
            font: { family: "'Liberation Sans', Arial, sans-serif", size: 80, lineHeight: 1 },
            padding: { top: 35, bottom: 0 }
          },
          afterFit: s => { s.width = opt.yw; s.paddingTop = 0; s.paddingBottom = 0; }
        }
      }
    },
    plugins: [framePlugin]
  });
}

makePanel('c1', [
  [gen1, p1Mauve, MAUVE], [gen1, p1Magenta, MAGENTA], [gen1, p1Lime, LIME], [gen1, p1Green, GREEN],
  [gen1, p1Orange, ORANGE], [gen1, p1Cyan, CYAN], [gen1, p1Steel, STEEL], [gen1, p1Red, RED],
  [gen1, p1Navy, NAVY], [gen1, p1Tan, TAN]
], { padding: { left: 0, top: 170, right: 50, bottom: 0 }, yw: 521, xh: 103, xLabels: false, yLabels: true });

makePanel('c2', [
  [gen2, p2Steel, STEEL], [gen2, p2Cyan, CYAN], [gen2, p2Tan, TAN], [gen2, p2Mauve, MAUVE],
  [gen2, p2Magenta, MAGENTA], [gen2, p2Orange, ORANGE], [gen2, p2Lime, LIME], [gen2, p2Navy, NAVY],
  [gen2, p2Green, GREEN], [gen2, p2Red, RED]
], { padding: { left: 0, top: 170, right: 103, bottom: 0 }, yw: 129, xh: 103, xLabels: false, yLabels: false });

makePanel('c3', [
  [gen3, p3Mauve, MAUVE], [gen3, p3Steel, STEEL], [gen3, p3Orange, ORANGE], [gen3, p3Lime, LIME],
  [gen3, p3Magenta, MAGENTA], [gen3, p3Navy, NAVY], [gen3, p3Red, RED], [gen3, p3Green, GREEN],
  [gen3, p3Cyan, CYAN], [gen3, p3Tan, TAN]
], { padding: { left: 0, top: 157, right: 130, bottom: 0 }, yw: 521, xh: 219, xLabels: true, yLabels: true });

makePanel('c4', [
  [gen4, p4Mauve, MAUVE], [gen4, p4Orange, ORANGE], [gen4, p4Steel, STEEL], [gen4, p4Lime, LIME],
  [gen4, p4Tan, TAN], [gen4, p4Green, GREEN], [gen4, p4Magenta, MAGENTA], [gen4, p4Red, RED],
  [gen4, p4Cyan, CYAN], [gen4, p4Navy, NAVY]
], { padding: { left: 0, top: 157, right: 103, bottom: 0 }, yw: 129, xh: 219, xLabels: true, yLabels: false });
</script>
</body>
</html>
